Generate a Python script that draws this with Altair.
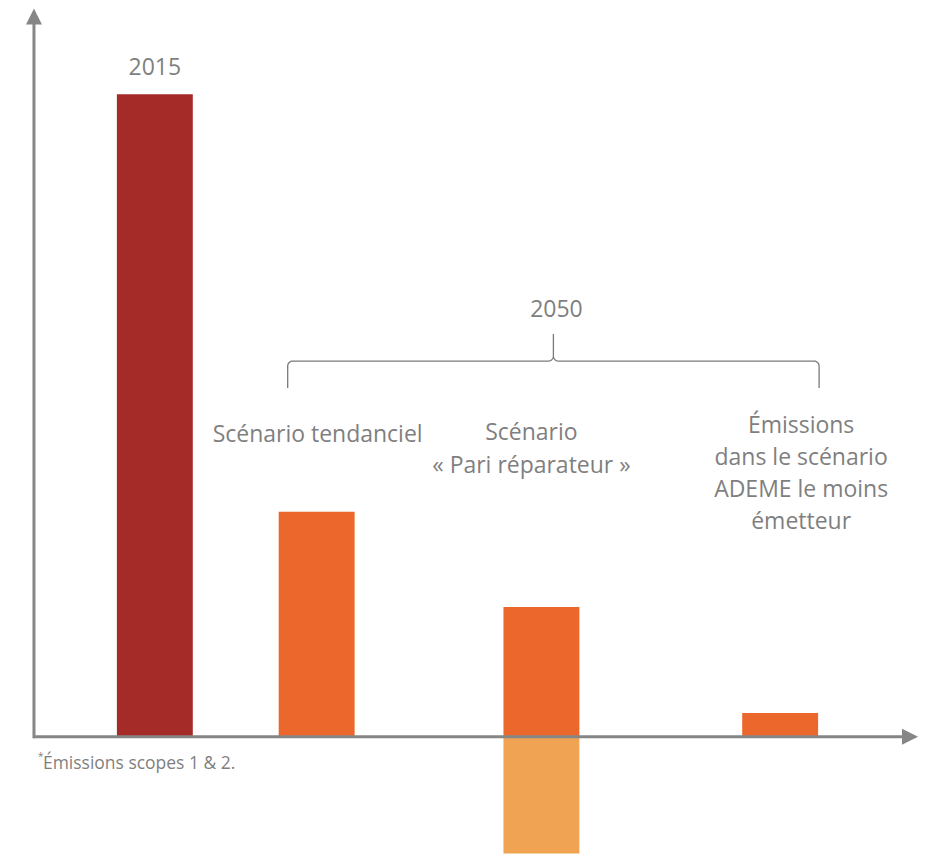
import altair as alt
import pandas as pd
import numpy as np

# ---- data (2015 = 100) ----
categories = ["2015", "Scénario tendanciel", "Pari réparateur (émissions)", "Pari réparateur (absorptions)", "ADEME moins émetteur"]
values = [100.0, 35.0, 20.2, -19.3, 3.7]
colors = ["#A52B28", "#EC672C", "#EC672C", "#F0A352", "#EC672C"]
slot = [0, 1, 2, 2, 3]

labels_2015 = ["2015"]
label_2050 = "2050"
group_labels = [
    ["Scénario tendanciel"],
    ["Scénario", "« Pari réparateur »"],
    ["Émissions", "dans le scénario", "ADEME le moins", "émetteur"],
]
footnote = "Émissions scopes 1 & 2."

# ---- layout ----
W, H = 910, 846          # plot area (page offset 8px)
K = 6.43                 # px per unit
Y_MAX = 729 / K
Y_MIN = -(H - 729) / K
centers = [155, 317, 542, 781]   # page x centres of bar slots
HALF = 38
GRAY = "#7F7F7F"
FONT = "Open Sans"
FS = 23

def xv(px):
    return px - 8

def yv(py):
    return (737 - py) / K

xs = alt.Scale(domain=[0, W], range=[0, W])
ys = alt.Scale(domain=[Y_MIN, Y_MAX])

bars_df = pd.DataFrame({
    "cat": categories,
    "value": values,
    "zero": [0.0] * len(values),
    "x0": [xv(centers[s] - HALF) for s in slot],
    "x1": [xv(centers[s] + HALF) for s in slot],
    "color": colors,
})

bars = alt.Chart(bars_df).mark_bar(clip=True).encode(
    x=alt.X("x0:Q", scale=xs, axis=None),
    x2="x1:Q",
    y=alt.Y("zero:Q", scale=ys, axis=None),
    y2="value:Q",
    color=alt.Color("color:N", scale=None),
)

# axes
axes_df = pd.DataFrame({
    "xa": [xv(34), xv(33)],
    "xb": [xv(34), xv(905)],
    "ya": [yv(738.5), yv(737)],
    "yb": [yv(22), yv(737)],
})
axes = alt.Chart(axes_df).mark_rule(color="#868686", strokeWidth=3).encode(
    x=alt.X("xa:Q", scale=xs, axis=None), x2="xb:Q",
    y=alt.Y("ya:Q", scale=ys, axis=None), y2="yb:Q",
)
arrows_df = pd.DataFrame({
    "x": [xv(34), xv(911)],
    "y": [yv(16), yv(737)],
})
arrow_up = alt.Chart(arrows_df.iloc[[0]]).mark_point(
    shape="M-1,1L1,1L0,-1Z", filled=True, size=256, color="#868686", opacity=1
).encode(x=alt.X("x:Q", scale=xs, axis=None), y=alt.Y("y:Q", scale=ys, axis=None))
arrow_right = alt.Chart(arrows_df.iloc[[1]]).mark_point(
    shape="M-1,-1L1,0L-1,1Z", filled=True, size=256, color="#868686", opacity=1
).encode(x=alt.X("x:Q", scale=xs, axis=None), y=alt.Y("y:Q", scale=ys, axis=None))

# brace
L, R, C = 288, 820, 554
TOP, MID, BOT = 334, 361, 388
r = 5
pts = []
def arc(cx, cy, a0, a1, n=8):
    for t in np.linspace(a0, a1, n):
        pts.append((cx + r * np.cos(t), cy - r * np.sin(t)))
pts.append((L, BOT))
arc(L + r, MID + r, np.pi, np.pi / 2)
arc(C - r, MID - r, -np.pi / 2, 0)
pts.append((C, TOP))
arc(C + r, MID - r, np.pi, 3 * np.pi / 2)
arc(R - r, MID + r, np.pi / 2, 0)
pts.append((R, BOT))
brace_df = pd.DataFrame({
    "i": range(len(pts)),
    "x": [xv(p[0]) for p in pts],
    "y": [yv(p[1]) for p in pts],
})
brace = alt.Chart(brace_df).mark_line(color="#7A7A7A", strokeWidth=1.3).encode(
    x=alt.X("x:Q", scale=xs, axis=None),
    y=alt.Y("y:Q", scale=ys, axis=None),
    order="i:Q",
)

# texts
trows = []
trows.append({"t": labels_2015[0], "x": xv(155), "y": yv(68)})
trows.append({"t": label_2050, "x": xv(557), "y": yv(310)})
trows.append({"t": group_labels[0][0], "x": xv(318), "y": yv(435)})
for j, s in enumerate(group_labels[1]):
    trows.append({"t": s, "x": xv(532), "y": yv(433 + 33 * j)})
for j, s in enumerate(group_labels[2]):
    trows.append({"t": s, "x": xv(802), "y": yv(426 + 32 * j)})
text_df = pd.DataFrame(trows)
texts = alt.Chart(text_df).mark_text(
    font=FONT, fontSize=FS, color=GRAY, align="center", baseline="middle"
).encode(
    x=alt.X("x:Q", scale=xs, axis=None),
    y=alt.Y("y:Q", scale=ys, axis=None),
    text="t:N",
)

foot_df = pd.DataFrame({"t": ["*", footnote], "x": [xv(38), xv(43)], "y": [yv(757), yv(764)]})
foot1 = alt.Chart(foot_df.iloc[[0]]).mark_text(
    font=FONT, fontSize=10, color=GRAY, align="left", baseline="middle"
).encode(x=alt.X("x:Q", scale=xs, axis=None), y=alt.Y("y:Q", scale=ys, axis=None), text="t:N")
foot2 = alt.Chart(foot_df.iloc[[1]]).mark_text(
    font=FONT, fontSize=17.5, color=GRAY, align="left", baseline="middle"
).encode(x=alt.X("x:Q", scale=xs, axis=None), y=alt.Y("y:Q", scale=ys, axis=None), text="t:N")

chart = alt.layer(bars, axes, arrow_up, arrow_right, brace, texts, foot1, foot2).properties(
    width=W, height=H, padding=0
).configure_view(stroke=None)

chart.save("out.html", embed_options={"renderer": "svg", "actions": False})
